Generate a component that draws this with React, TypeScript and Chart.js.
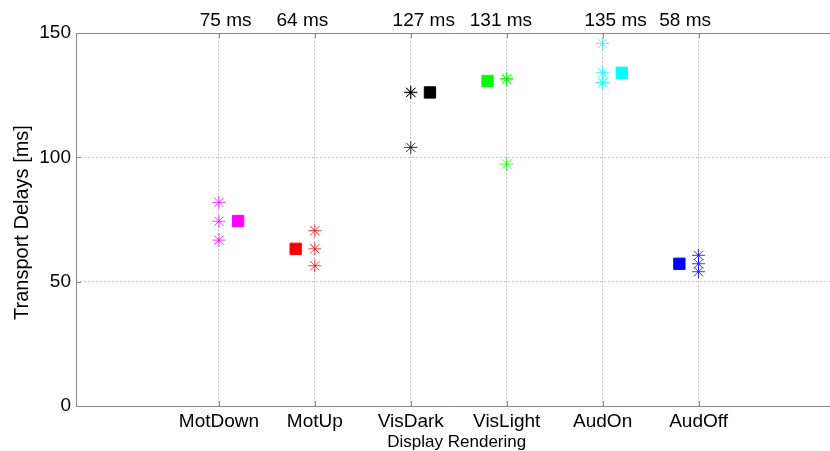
import React, { useEffect, useRef } from "react";
import { Chart, registerables } from "chart.js";

Chart.register(...registerables);

const categories = ["MotDown", "MotUp", "VisDark", "VisLight", "AudOn", "AudOff"];
const categoryX = [1, 2, 3, 4, 5, 6];
const colors = ["#ff00ff", "#ff0000", "#000000", "#00ff00", "#00ffff", "#0000ff"];

const motDownTrials = [81.9, 74.3, 66.7];
const motUpTrials = [70.5, 63.2, 56.4];
const visDarkTrials = [126.2, 126.0, 104.0];
const visLightTrials = [131.7, 131.2, 97.3];
const audOnTrials = [145.8, 134.0, 130.1];
const audOffTrials = [60.6, 57.2, 54.0];
const trials = [motDownTrials, motUpTrials, visDarkTrials, visLightTrials, audOnTrials, audOffTrials];

const meanValues = [74.4, 63.2, 126.1, 130.7, 134.0, 57.2];
const meanX = [1.2, 1.8, 3.2, 3.8, 5.2, 5.8];

const meanLabels = ["75 ms", "64 ms", "127 ms", "131 ms", "135 ms", "58 ms"];
const meanLabelX = [1.07, 1.87, 3.135, 3.94, 5.135, 5.86];

const yTicks = [0, 50, 100, 150];
const xTitle = "Display Rendering";
const yTitle = "Transport Delays [ms]";

const FONT = "'Liberation Sans', Arial, Helvetica, sans-serif";

const framePlugin = {
  id: "frame",
  afterDraw(chart: any) {
    const { ctx, chartArea, scales } = chart;
    const x = scales.x;
    const y = scales.y;
    ctx.save();
    ctx.strokeStyle = "#8a8a8a";
    ctx.lineWidth = 1;
    ctx.beginPath();
    ctx.moveTo(chartArea.left + 0.5, chartArea.top + 0.5);
    ctx.lineTo(chart.width, chartArea.top + 0.5);
    ctx.moveTo(chartArea.left + 0.5, chartArea.bottom + 0.5);
    ctx.lineTo(chart.width, chartArea.bottom + 0.5);
    ctx.moveTo(chartArea.left + 0.5, chartArea.top);
    ctx.lineTo(chartArea.left + 0.5, chartArea.bottom + 1);
    categoryX.forEach((v) => {
      const px = Math.round(x.getPixelForValue(v)) + 0.5;
      ctx.moveTo(px, chartArea.top);
      ctx.lineTo(px, chartArea.top + 5);
      ctx.moveTo(px, chartArea.bottom);
      ctx.lineTo(px, chartArea.bottom - 5);
    });
    yTicks.forEach((v) => {
      const py = Math.round(y.getPixelForValue(v)) + 0.5;
      ctx.moveTo(chartArea.left, py);
      ctx.lineTo(chartArea.left + 5, py);
    });
    ctx.stroke();

    ctx.fillStyle = "#000";
    ctx.font = `19px ${FONT}`;
    ctx.textAlign = "center";
    ctx.textBaseline = "middle";
    meanLabels.forEach((t, i) => {
      ctx.fillText(t, x.getPixelForValue(meanLabelX[i]), 21);
    });

    ctx.font = `17px ${FONT}`;
    ctx.fillText(xTitle, (x.getPixelForValue(1) + x.getPixelForValue(6)) / 2 - 2, 442);

    ctx.font = `20px ${FONT}`;
    ctx.translate(22, (chartArea.top + chartArea.bottom) / 2 + 3);
    ctx.rotate(-Math.PI / 2);
    ctx.fillText(yTitle, 0, 0);
    ctx.restore();
  },
};

export default function App() {
  const ref = useRef<HTMLCanvasElement | null>(null);

  useEffect(() => {
    if (!ref.current) return;
    const datasets: any[] = [];
    categories.forEach((c, i) => {
      datasets.push({
        label: c + " trials",
        data: trials[i].map((v) => ({ x: categoryX[i], y: v })),
        pointStyle: "star",
        pointRadius: 6.5,
        borderColor: colors[i],
        backgroundColor: colors[i],
        borderWidth: 0.8,
        showLine: false,
      });
      datasets.push({
        label: c + " mean",
        data: [{ x: meanX[i], y: meanValues[i] }],
        pointStyle: "rect",
        pointRadius: 8,
        borderColor: colors[i],
        backgroundColor: colors[i],
        borderWidth: 1,
        showLine: false,
      });
    });

    const chart = new Chart(ref.current, {
      type: "scatter",
      data: { datasets },
      plugins: [framePlugin],
      options: {
        animation: false,
        responsive: false,
        maintainAspectRatio: false,
        layout: { autoPadding: false, padding: { left: 0, top: 33, right: 1, bottom: 0 } },
        plugins: { legend: { display: false }, tooltip: { enabled: false } },
        elements: { point: { hoverRadius: 6 } },
        clip: false as any,
        scales: {
          x: {
            type: "linear",
            position: "bottom",
            min: -0.49,
            max: 7.36,
            afterBuildTicks: (s: any) => {
              s.ticks = categoryX.map((v) => ({ value: v }));
            },
            afterFit: (s: any) => {
              s.height = 45;
            },
            ticks: {
              autoSkip: false,
              maxRotation: 0,
              padding: 4,
              color: "#000",
              font: { size: 19, family: FONT },
              callback: (v: any) => {
                const idx = categoryX.indexOf(Number(v));
                return idx >= 0 ? categories[idx] : "";
              },
            },
            grid: { color: "#c4c4c4", lineWidth: 1, drawTicks: false },
            border: { display: false, dash: [2, 2] },
          },
          y: {
            type: "linear",
            min: 0,
            max: 150,
            afterBuildTicks: (s: any) => {
              s.ticks = yTicks.map((v) => ({ value: v }));
            },
            afterFit: (s: any) => {
              s.width = 76;
            },
            ticks: {
              padding: 5,
              color: "#000",
              font: { size: 19, family: FONT },
            },
            grid: { color: "#c4c4c4", lineWidth: 1, drawTicks: false },
            border: { display: false, dash: [2, 2] },
          },
        },
      },
    });
    return () => chart.destroy();
  }, []);

  return (
    <div style={{ position: "absolute", left: 0, top: 0, width: 830, height: 451, background: "#fff" }}>
      <canvas ref={ref} width={830} height={451} style={{ display: "block" }} />
    </div>
  );
}
